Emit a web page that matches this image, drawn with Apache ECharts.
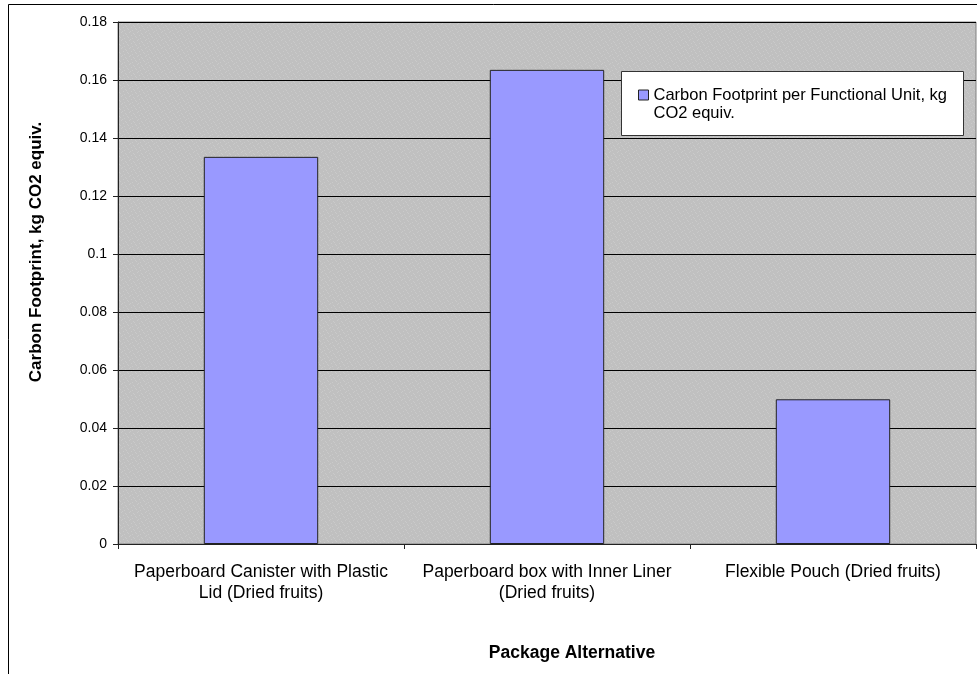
<!DOCTYPE html>
<html>
<head>
<meta charset="utf-8">
<script src="https://cdn.jsdelivr.net/npm/echarts@6/dist/echarts.min.js"></script>
<style>
  html, body { margin: 0; padding: 0; background: #fff; }
  #chart { width: 977px; height: 674px; }
</style>
</head>
<body>
<div id="chart"></div>
<script>
// Package alternatives and their carbon footprint (kg CO2 equiv. per functional unit)
const categories = [
  'Paperboard Canister with Plastic\nLid (Dried fruits)',
  'Paperboard box with Inner Liner\n(Dried fruits)',
  'Flexible Pouch (Dried fruits)'
];
const footprint = [0.1335, 0.1635, 0.0499];
const seriesName = 'Carbon Footprint per Functional Unit, kg\nCO2 equiv.';
const yAxisTitle = 'Carbon Footprint, kg CO2 equiv.';
const xAxisTitle = 'Package Alternative';
const yMin = 0, yMax = 0.18, yStep = 0.02;

const FONT = 'Arial, "Liberation Sans", sans-serif';

// Speckled grey fill for the plot area
function speckle() {
  const c = document.createElement('canvas');
  c.width = 8; c.height = 8;
  const g = c.getContext('2d');
  g.fillStyle = '#c0c0c0';
  g.fillRect(0, 0, 8, 8);
  g.fillStyle = '#cacaca';
  [[1,0],[5,1],[3,3],[7,4],[0,5],[4,6],[2,7],[6,2]].forEach(([x, y]) => g.fillRect(x, y, 1, 1));
  return { image: c, repeat: 'repeat' };
}

const chart = echarts.init(document.getElementById('chart'), null, { renderer: 'canvas' });

chart.setOption({
  animation: false,
  backgroundColor: '#ffffff',
  textStyle: { fontFamily: FONT },
  grid: {
    left: 118, top: 22, right: 1, bottom: 130,
    show: true,
    backgroundColor: speckle(),
    borderColor: '#808080',
    borderWidth: 1
  },
  legend: {
    left: 638, top: 68,
    padding: 0,
    itemWidth: 10, itemHeight: 10,
    icon: 'rect',
    z: 5,
    // leading empty line keeps the first text line level with the swatch
    formatter: name => '\n' + name,
    textStyle: {
      fontFamily: FONT, fontSize: 16.5, color: '#000', lineHeight: 18
    },
    data: [{ name: seriesName, itemStyle: { borderColor: '#222', borderWidth: 1 } }]
  },
  xAxis: {
    type: 'category',
    data: categories,
    axisLine: { lineStyle: { color: '#222', width: 1 } },
    axisTick: { show: true, length: 5, lineStyle: { color: '#222' } },
    axisLabel: {
      margin: 18, color: '#000', fontFamily: FONT, fontSize: 17.5,
      lineHeight: 21, interval: 0
    },
    splitLine: { show: false }
  },
  yAxis: {
    type: 'value',
    min: yMin, max: yMax, interval: yStep,
    axisLine: { show: true, lineStyle: { color: '#222', width: 1 } },
    axisTick: { show: true, length: 5, lineStyle: { color: '#222' } },
    axisLabel: { margin: 11, color: '#000', fontFamily: FONT, fontSize: 14 },
    splitLine: { show: true, lineStyle: { color: '#000', width: 1 } }
  },
  series: [{
    name: seriesName,
    type: 'bar',
    data: footprint,
    barWidth: '40%',
    itemStyle: { color: '#9999ff', borderColor: '#222', borderWidth: 1 }
  }],
  graphic: [
    // outer chart frame
    {
      type: 'rect', z: 0, silent: true,
      shape: { x: 8.5, y: 4.5, width: 1200, height: 1200 },
      style: { fill: 'none', stroke: '#000', lineWidth: 1 }
    },
    // legend box
    {
      type: 'rect', z: 4, silent: true,
      shape: { x: 621.5, y: 71.5, width: 342, height: 64 },
      style: { fill: '#fff', stroke: '#333', lineWidth: 1 }
    },
    {
      type: 'text', z: 5, silent: true,
      x: 36, y: 252, rotation: Math.PI / 2,
      style: {
        text: yAxisTitle, fill: '#000',
        font: 'bold 17px ' + FONT,
        align: 'center', verticalAlign: 'middle'
      }
    },
    {
      type: 'text', z: 5, silent: true,
      x: 572, y: 653,
      style: {
        text: xAxisTitle, fill: '#000',
        font: 'bold 17.5px ' + FONT,
        align: 'center', verticalAlign: 'middle'
      }
    }
  ]
});
</script>
</body>
</html>
